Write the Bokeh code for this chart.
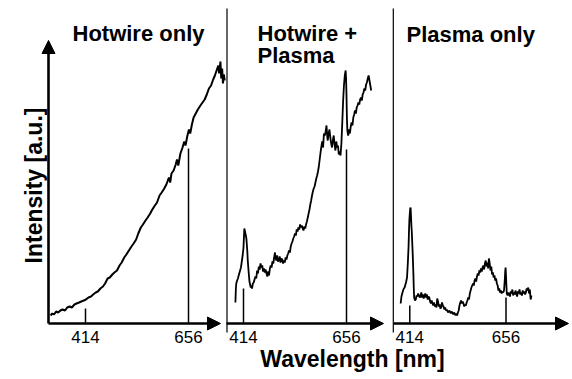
import math
from bokeh.plotting import figure
from bokeh.models import Range1d, FixedTicker, Label, Arrow, NormalHead, LinearAxis
from bokeh.embed import file_html
from bokeh.resources import INLINE

# ---------------- data ----------------
tick_wavelengths = [414, 656]
tick_labels = ["414", "656"]
titles = ["Hotwire only", "Hotwire +\nPlasma", "Plasma only"]
y_label = "Intensity [a.u.]"
x_label = "Wavelength [nm]"

# Hotwire only
p1_wl = [332, 336, 340, 345, 350, 355, 360, 366, 371, 377, 382, 388, 393, 399, 404, 410, 415, 421,
         427, 432, 438, 443, 449, 455, 460, 466, 471, 477, 482, 488, 494, 499, 505, 510, 516, 522,
         527, 533, 538, 544, 549, 555, 560, 566, 571, 577, 582, 588, 593, 599, 604, 610, 613, 616,
         621, 626, 629, 632, 637, 642, 646, 649, 653, 657, 660, 664, 668, 673, 678, 684, 689, 694,
         699, 704, 709, 714, 718, 722, 726, 728, 731, 733, 735, 737, 739, 741]
p1_int = [8, 10, 9, 12, 11, 13, 14, 13, 16, 17, 16, 19, 20, 21, 22, 23, 24, 26,
          27, 29, 31, 32, 35, 37, 40, 45, 46, 49, 51, 53, 58, 61, 66, 69, 73, 77,
          80, 84, 90, 96, 99, 103, 106, 110, 114, 118, 121, 128, 131, 135, 139, 146, 141, 150,
          153, 159, 164, 158, 170, 176, 182, 178, 187, 194, 190, 199, 206, 210, 214, 218, 221, 224,
          229, 235, 238, 244, 248, 253, 258, 250, 262, 245, 255, 240, 249, 243]

# Hotwire + Plasma
p2_wl = [395, 396, 397, 399, 401, 402, 404, 406, 408, 410, 412, 414, 415, 416, 418, 420, 421, 423,
         424, 426, 428, 429, 431, 432, 434, 436, 438, 440, 442, 444, 446, 448, 450, 452, 454, 456,
         458, 460, 462, 464, 466, 468, 470, 472, 474, 476, 478, 480, 482, 484, 486, 488, 489, 491,
         493, 495, 497, 499, 501, 503, 505, 507, 509, 511, 513, 515, 517, 519, 521, 523, 525, 527,
         529, 531, 533, 535, 537, 539, 541, 543, 545, 547, 549, 551, 553, 555, 557, 559, 561, 563,
         565, 567, 569, 571, 573, 575, 577, 579, 581, 583, 585, 587, 589, 591, 593, 595, 597, 599,
         601, 603, 605, 607, 609, 611, 612, 614, 616, 618, 620, 622, 624, 626, 628, 630, 632, 634,
         636, 638, 640, 642, 644, 646, 648, 650, 652, 654, 655, 656, 657, 658, 660, 662, 664, 666,
         668, 670, 672, 674, 676, 678, 680, 682, 684, 686, 688, 690, 692, 694, 696, 698, 700, 702,
         704, 706, 708, 710, 712, 714]
p2_int = [21, 34, 40, 43, 45, 47, 50, 53, 56, 62, 68, 76, 86, 95, 91, 87, 84, 72,
          63, 52, 42, 40, 36, 38, 35, 40, 41, 44, 47, 45, 53, 50, 57, 54, 60, 56,
          58, 52, 55, 51, 54, 50, 47, 52, 48, 55, 58, 56, 62, 60, 66, 71, 66, 63,
          68, 62, 63, 67, 61, 65, 64, 60, 63, 61, 66, 64, 68, 70, 73, 71, 77, 80,
          82, 85, 87, 90, 88, 94, 92, 96, 94, 99, 96, 98, 95, 93, 97, 95, 99, 102,
          106, 110, 114, 119, 123, 128, 132, 135, 137, 141, 145, 148, 152, 157, 164, 171, 177, 182,
          176, 190, 188, 192, 198, 186, 183, 190, 194, 186, 180, 176, 183, 188, 179, 173, 182, 176,
          178, 169, 172, 168, 180, 200, 222, 238, 248, 253, 245, 228, 205, 193, 188, 194, 190, 197,
          201, 198, 206, 209, 213, 210, 216, 218, 221, 219, 224, 226, 223, 229, 231, 235, 233, 239,
          241, 245, 248, 243, 238, 233]

# Plasma only
p3_wl = [391, 393, 395, 397, 399, 401, 403, 405, 407, 409, 411, 412, 413, 414, 415, 416, 417, 418,
         419, 420, 421, 422, 423, 424, 425, 427, 429, 431, 433, 435, 437, 439, 441, 443, 445, 447,
         449, 451, 453, 455, 457, 459, 461, 463, 465, 467, 469, 471, 473, 475, 477, 479, 481, 483,
         485, 487, 489, 491, 493, 495, 497, 499, 501, 503, 505, 507, 509, 511, 513, 515, 517, 519,
         521, 523, 525, 527, 529, 531, 533, 535, 537, 539, 541, 543, 545, 547, 549, 551, 553, 555,
         557, 559, 561, 563, 565, 567, 569, 571, 573, 575, 577, 579, 581, 583, 585, 587, 589, 591,
         593, 595, 597, 599, 601, 603, 605, 607, 609, 611, 613, 615, 617, 619, 621, 623, 625, 627,
         629, 631, 633, 635, 637, 639, 641, 643, 645, 647, 649, 651, 653, 654, 655, 656, 657, 658,
         660, 662, 664, 666, 668, 670, 672, 674, 676, 678, 680, 682, 684, 686, 688, 690, 692, 694,
         696, 698, 700, 702, 704, 706, 708, 710, 712, 714, 716, 718, 720]
p3_int = [20, 27, 30, 33, 35, 36, 39, 42, 46, 60, 78, 93, 104, 110, 115, 116, 108, 98,
          92, 82, 73, 62, 50, 35, 26, 23, 24, 28, 27, 30, 28, 26, 27, 31, 26, 29,
          25, 28, 30, 26, 29, 24, 27, 26, 22, 20, 23, 20, 18, 21, 17, 19, 16, 25,
          22, 17, 19, 15, 16, 21, 18, 17, 14, 16, 13, 14, 12, 11, 13, 12, 10, 12,
          11, 9, 11, 10, 8, 10, 8, 11, 13, 18, 21, 23, 20, 22, 20, 17, 19, 18,
          21, 23, 26, 24, 30, 33, 36, 38, 40, 38, 43, 45, 42, 47, 50, 48, 53, 51,
          55, 52, 56, 58, 54, 60, 63, 57, 61, 55, 65, 60, 53, 57, 49, 51, 46, 48,
          43, 45, 40, 38, 33, 35, 31, 33, 30, 32, 31, 33, 44, 52, 56, 48, 38, 30,
          28, 31, 29, 27, 32, 30, 34, 28, 31, 29, 33, 30, 27, 32, 30, 34, 29, 31,
          28, 33, 30, 32, 29, 31, 35, 33, 36, 30, 34, 24, 28]

# height of the vertical marker lines at 414 nm and 656 nm, per panel
marker_tops = [[15, 175], [35, 174], [18, 26]]

# ---------------- layout (pixels) ----------------
FONT = "Liberation Sans"
W, H = 572, 379
AXIS_PY = 323
panels = [
    dict(px414=85, px656=188, axis_from=48, axis_to=220, divider=None),
    dict(px414=243, px656=346, axis_from=226, axis_to=383, divider=226.5),
    dict(px414=409.3, px656=505.5, axis_from=393, axis_to=568, divider=392.8),
]
series = [(p1_wl, p1_int), (p2_wl, p2_int), (p3_wl, p3_int)]
line_widths = [2.0, 1.8, 1.8]


def xd(pan, px):
    lo, hi = tick_wavelengths
    return lo + (px - pan["px414"]) * (hi - lo) / (pan["px656"] - pan["px414"])


def yd(py):
    return AXIS_PY - py


p = figure(width=W, height=H, output_backend="svg", toolbar_location=None,
           x_range=Range1d(0, W), y_range=Range1d(yd(H), yd(0)),
           x_axis_location=None, y_axis_location=None, title=None)
p.min_border = 0
p.outline_line_color = None
p.grid.visible = False
p.background_fill_color = "white"
p.border_fill_color = "white"

head = lambda: NormalHead(size=13, fill_color="black", line_color="black")

for i, pan in enumerate(panels):
    rname = f"p{i}"
    p.extra_x_ranges[rname] = Range1d(xd(pan, 0), xd(pan, W))

    ax = LinearAxis(x_range_name=rname, fixed_location=0,
                    ticker=FixedTicker(ticks=tick_wavelengths))
    ax.major_label_overrides = {t: l for t, l in zip(tick_wavelengths, tick_labels)}
    ax.axis_line_color = None
    ax.major_tick_line_color = None
    ax.minor_tick_line_color = None
    ax.major_tick_out = 0
    ax.major_tick_in = 0
    ax.major_label_standoff = 7
    ax.major_label_text_font = FONT
    ax.major_label_text_font_size = "17px"
    ax.major_label_text_color = "black"
    p.add_layout(ax, "below")

    wl, inten = series[i]
    p.line(wl, inten, x_range_name=rname, line_color="black", line_width=line_widths[i])

    p.segment(x0=tick_wavelengths, y0=[0, 0], x1=tick_wavelengths, y1=marker_tops[i],
              x_range_name=rname, line_color="black", line_width=1.5)

    # x axis with arrow head
    p.add_layout(Arrow(end=head(), x_start=pan["axis_from"], y_start=0,
                       x_end=pan["axis_to"], y_end=0, line_color="black", line_width=2.6))

    if pan["divider"] is not None:
        p.segment(x0=[pan["divider"]], y0=[yd(8)], x1=[pan["divider"]], y1=[yd(332)],
                  line_color="black", line_width=1.2)

# y axis arrow (panel 1) and its label
p.add_layout(Arrow(end=head(), x_start=48, y_start=0, x_end=48, y_end=yd(40),
                   line_color="black", line_width=2.6))
p.add_layout(Label(x=33.5, y=yd(185), text=y_label, angle=math.pi / 2,
                   text_align="center", text_baseline="middle", text_font=FONT,
                   text_font_style="bold", text_font_size="23px", text_color="black"))

# panel titles
p.add_layout(Label(x=138, y=yd(33), text=titles[0], text_align="center",
                   text_baseline="alphabetic", text_font=FONT, text_font_style="bold",
                   text_font_size="22px", text_color="black"))
for j, line in enumerate(titles[1].split("\n")):
    p.add_layout(Label(x=257, y=yd(33 + 22 * j), text=line, text_align="left",
                       text_baseline="alphabetic", text_font=FONT, text_font_style="bold",
                       text_font_size="22px", text_color="black"))
p.add_layout(Label(x=406, y=yd(34), text=titles[2], text_align="left",
                   text_baseline="alphabetic", text_font=FONT, text_font_style="bold",
                   text_font_size="22px", text_color="black"))

# shared x label
p.add_layout(Label(x=352, y=yd(358), text=x_label, text_align="center",
                   text_baseline="middle", text_font=FONT, text_font_style="bold",
                   text_font_size="23px", text_color="black"))

open("out.html", "w").write(file_html(p, INLINE))
